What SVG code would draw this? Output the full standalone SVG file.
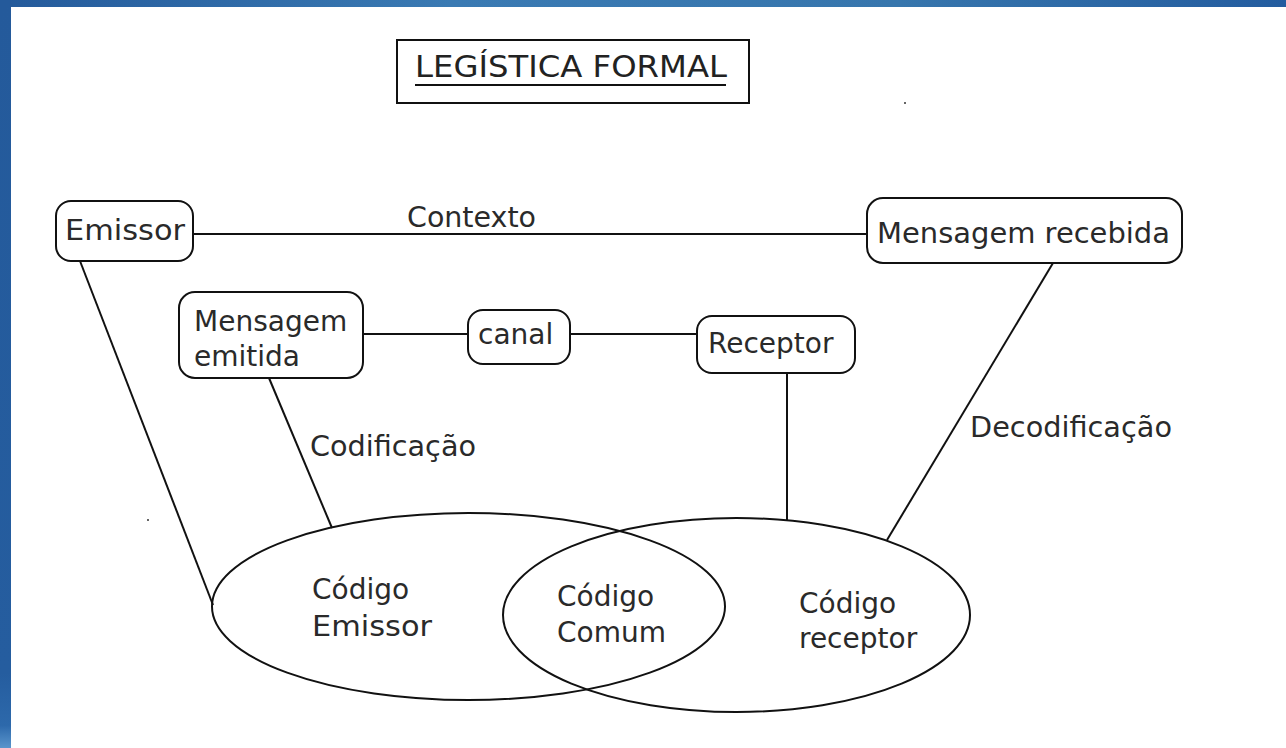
<svg xmlns="http://www.w3.org/2000/svg" width="1286" height="748" viewBox="0 0 1286 748">
  <defs>
    <linearGradient id="topband" x1="0" y1="0" x2="1" y2="0">
      <stop offset="0" stop-color="#245a9b"/>
      <stop offset="0.35" stop-color="#3a7ab3"/>
      <stop offset="0.7" stop-color="#3776ad"/>
      <stop offset="1" stop-color="#235c9f"/>
    </linearGradient>
    <linearGradient id="leftband" x1="0" y1="0" x2="0" y2="1">
      <stop offset="0" stop-color="#245a9b"/>
      <stop offset="0.9" stop-color="#255d9f"/>
      <stop offset="0.97" stop-color="#2d69ab"/>
      <stop offset="1" stop-color="#5a95cc"/>
    </linearGradient>
    <style>
      .box { fill: #ffffff; stroke: #111111; stroke-width: 2; }
      .line { fill: none; stroke: #111111; stroke-width: 2; }
      .ell { fill: none; stroke: #111111; stroke-width: 2; }
      .t { font-family: "DejaVu Sans", "Liberation Sans", sans-serif; font-size: 28px; fill: #2a2a2a; }
      .title { font-family: "DejaVu Sans", "Liberation Sans", sans-serif; font-size: 30px; fill: #222222; }
    </style>
  </defs>

  <rect x="0" y="0" width="1286" height="748" fill="#ffffff"/>
  <rect x="0" y="0" width="1286" height="7" fill="url(#topband)"/>
  <rect x="0" y="0" width="11" height="748" fill="url(#leftband)"/>

  <!-- tiny specks -->
  <rect x="904" y="102" width="2" height="2" fill="#666666"/>
  <rect x="147" y="519" width="2" height="2" fill="#666666"/>

  <!-- connectors -->
  <g id="connectors">
    <line class="line" x1="193" y1="234" x2="867" y2="234"/>
    <line class="line" x1="363" y1="334" x2="468" y2="334"/>
    <line class="line" x1="570" y1="334" x2="697" y2="334"/>
    <line class="line" x1="80" y1="261" x2="213" y2="605"/>
    <line class="line" x1="269" y1="378" x2="332" y2="528"/>
    <line class="line" x1="787" y1="373" x2="787" y2="520"/>
    <line class="line" x1="1053" y1="263" x2="887" y2="540"/>
    <text class="t" x="407" y="227" textLength="129" lengthAdjust="spacingAndGlyphs">Contexto</text>
    <text class="t" x="310" y="456" textLength="166" lengthAdjust="spacingAndGlyphs">Codificação</text>
    <text class="t" x="970" y="437" textLength="202" lengthAdjust="spacingAndGlyphs">Decodificação</text>
  </g>

  <g id="title">
    <rect x="397" y="40" width="352" height="63" fill="#ffffff" stroke="#111111" stroke-width="2"/>
    <text class="title" x="415" y="77" textLength="312" lengthAdjust="spacingAndGlyphs">LEGÍSTICA FORMAL</text>
    <line x1="415" y1="85" x2="726" y2="85" stroke="#111111" stroke-width="2"/>
  </g>

  <g id="emissor">
    <rect class="box" x="56" y="201" width="137" height="60" rx="15" ry="15"/>
    <text class="t" x="65" y="240" textLength="120" lengthAdjust="spacingAndGlyphs">Emissor</text>
  </g>

  <g id="mensagem-recebida">
    <rect class="box" x="867" y="198" width="315" height="65" rx="16" ry="16"/>
    <text class="t" x="877" y="243" textLength="293" lengthAdjust="spacingAndGlyphs">Mensagem recebida</text>
  </g>

  <g id="mensagem-emitida">
    <rect class="box" x="179" y="292" width="184" height="86" rx="16" ry="16"/>
    <text class="t" x="194" y="331">Mensagem</text>
    <text class="t" x="194" y="366">emitida</text>
  </g>

  <g id="canal">
    <rect class="box" x="468" y="310" width="102" height="54" rx="15" ry="15"/>
    <text class="t" x="478" y="344">canal</text>
  </g>

  <g id="receptor">
    <rect class="box" x="697" y="316" width="158" height="57" rx="15" ry="15"/>
    <text class="t" x="708" y="353">Receptor</text>
  </g>

  <g id="codigo-emissor">
    <ellipse class="ell" cx="468.5" cy="606.5" rx="256.5" ry="93.5"/>
    <text class="t" x="312" y="599">Código</text>
    <text class="t" x="312" y="636" textLength="120" lengthAdjust="spacingAndGlyphs">Emissor</text>
  </g>

  <g id="codigo-receptor">
    <ellipse class="ell" cx="736.5" cy="615" rx="233.5" ry="97"/>
    <text class="t" x="799" y="613">Código</text>
    <text class="t" x="799" y="648">receptor</text>
  </g>

  <g id="codigo-comum">
    <text class="t" x="557" y="606">Código</text>
    <text class="t" x="557" y="642">Comum</text>
  </g>
</svg>
